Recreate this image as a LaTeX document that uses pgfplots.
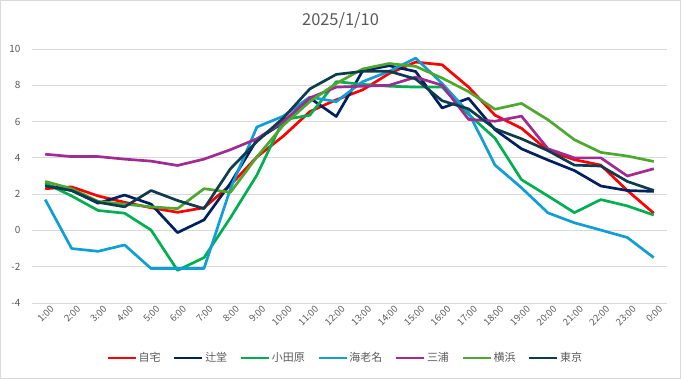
\documentclass[border=0pt]{standalone}
\usepackage{fontspec}
\setmainfont{Noto Sans CJK JP}
\usepackage{pgfplots}
\pgfplotsset{compat=1.18}
\definecolor{txt}{HTML}{595959}
\definecolor{gridc}{HTML}{D9D9D9}
\definecolor{frame}{HTML}{D9D9D9}
\definecolor{cJitaku}{HTML}{FF0000}
\definecolor{cTsuji}{HTML}{002060}
\definecolor{cOda}{HTML}{00B050}
\definecolor{cEbina}{HTML}{0F9ED5}
\definecolor{cMiura}{HTML}{A02B93}
\definecolor{cYoko}{HTML}{4EA72E}
\definecolor{cTokyo}{HTML}{0E3B4D}
\pgfplotsset{
  every axis plot/.append style={line width=2.7pt, line join=round, no markers},
  legend image code/.code={\draw[#1] (0bp,0bp) -- (28bp,0bp);}
}
\begin{document}
\begin{tikzpicture}
\useasboundingbox (0,0) rectangle (681bp,379bp);
\draw[color=frame, line width=0.8pt] (0.5bp,0.5bp) rectangle (680.5bp,378.5bp);
\node[text=txt, font=\fontsize{16.5}{19}\selectfont] at (340.5bp,359bp) {2025/1/10};
\begin{axis}[
  at={(32bp,76bp)}, anchor=south west,
  scale only axis, width=635bp, height=254bp,
  xmin=0.5, xmax=24.5, ymin=-4, ymax=10,
  ytick={-4,-2,0,2,4,6,8,10},
  xtick={1,...,24},
  xticklabels={1:00,2:00,3:00,4:00,5:00,6:00,7:00,8:00,9:00,10:00,11:00,12:00,13:00,14:00,15:00,16:00,17:00,18:00,19:00,20:00,21:00,22:00,23:00,0:00},
  axis line style={draw=none},
  ymajorgrids, grid style={gridc, line width=0.8pt},
  major tick length=0pt,
  /pgf/number format/assume math mode=true,
  tick label style={text=txt, font=\fontsize{10}{12}\selectfont},
  yticklabel style={xshift=-8bp},
  xticklabel style={rotate=45, anchor=east, inner sep=0pt, font=\fontsize{9.5}{11}\selectfont, xshift=2bp, yshift=-8bp},
  legend columns=7,
  legend style={at={(0.493,-0.217)}, anchor=center, draw=none, fill=none,
    font=\fontsize{11}{13}\selectfont, text=txt,
    nodes={inner sep=1.5bp},
    /tikz/every even column/.append style={column sep=11bp}},
]
\addplot[cJitaku] coordinates {(1,2.3)(2,2.4)(3,1.9)(4,1.55)(5,1.25)(6,1.0)(7,1.25)(8,2.5)(9,4.05)(10,5.2)(11,6.55)(12,7.2)(13,7.75)(14,8.65)(15,9.28)(16,9.13)(17,7.9)(18,6.35)(19,5.63)(20,4.4)(21,3.9)(22,3.6)(23,2.2)(24,0.95)};
\addlegendentry{自宅}
\addplot[cTsuji] coordinates {(1,2.5)(2,2.2)(3,1.5)(4,1.95)(5,1.45)(6,-0.12)(7,0.58)(8,2.6)(9,5.0)(10,5.95)(11,7.3)(12,6.28)(13,8.8)(14,9.08)(15,8.76)(16,6.75)(17,7.28)(18,5.55)(19,4.5)(20,3.88)(21,3.3)(22,2.45)(23,2.2)(24,2.15)};
\addlegendentry{辻堂}
\addplot[cOda] coordinates {(1,2.6)(2,1.9)(3,1.1)(4,0.95)(5,0.02)(6,-2.2)(7,-1.5)(8,0.7)(9,3.05)(10,6.1)(11,6.35)(12,8.2)(13,8.05)(14,7.95)(15,7.9)(16,7.9)(17,6.4)(18,5.08)(19,2.8)(20,1.9)(21,0.98)(22,1.7)(23,1.35)(24,0.85)};
\addlegendentry{小田原}
\addplot[cEbina] coordinates {(1,1.7)(2,-1.0)(3,-1.15)(4,-0.8)(5,-2.1)(6,-2.1)(7,-2.1)(8,2.3)(9,5.7)(10,6.3)(11,7.35)(12,7.1)(13,8.2)(14,8.77)(15,9.5)(16,8.1)(17,6.5)(18,3.6)(19,2.35)(20,0.97)(21,0.42)(22,0.02)(23,-0.39)(24,-1.5)};
\addlegendentry{海老名}
\addplot[cMiura] coordinates {(1,4.2)(2,4.07)(3,4.07)(4,3.93)(5,3.82)(6,3.58)(7,3.93)(8,4.45)(9,5.05)(10,6.0)(11,7.3)(12,7.9)(13,7.95)(14,8.0)(15,8.45)(16,8.0)(17,6.12)(18,6.02)(19,6.3)(20,4.5)(21,4.0)(22,4.0)(23,3.0)(24,3.4)};
\addlegendentry{三浦}
\addplot[cYoko] coordinates {(1,2.7)(2,2.3)(3,1.6)(4,1.45)(5,1.3)(6,1.2)(7,2.3)(8,2.1)(9,4.05)(10,5.8)(11,7.1)(12,8.1)(13,8.9)(14,9.2)(15,9.04)(16,8.4)(17,7.65)(18,6.68)(19,7.0)(20,6.1)(21,5.0)(22,4.3)(23,4.1)(24,3.8)};
\addlegendentry{横浜}
\addplot[cTokyo] coordinates {(1,2.45)(2,2.2)(3,1.55)(4,1.3)(5,2.2)(6,1.65)(7,1.2)(8,3.4)(9,4.9)(10,6.2)(11,7.8)(12,8.6)(13,8.77)(14,8.77)(15,8.35)(16,7.15)(17,6.7)(18,5.6)(19,5.05)(20,4.4)(21,3.6)(22,3.55)(23,2.7)(24,2.2)};
\addlegendentry{東京}
\end{axis}
\end{tikzpicture}
\end{document}
